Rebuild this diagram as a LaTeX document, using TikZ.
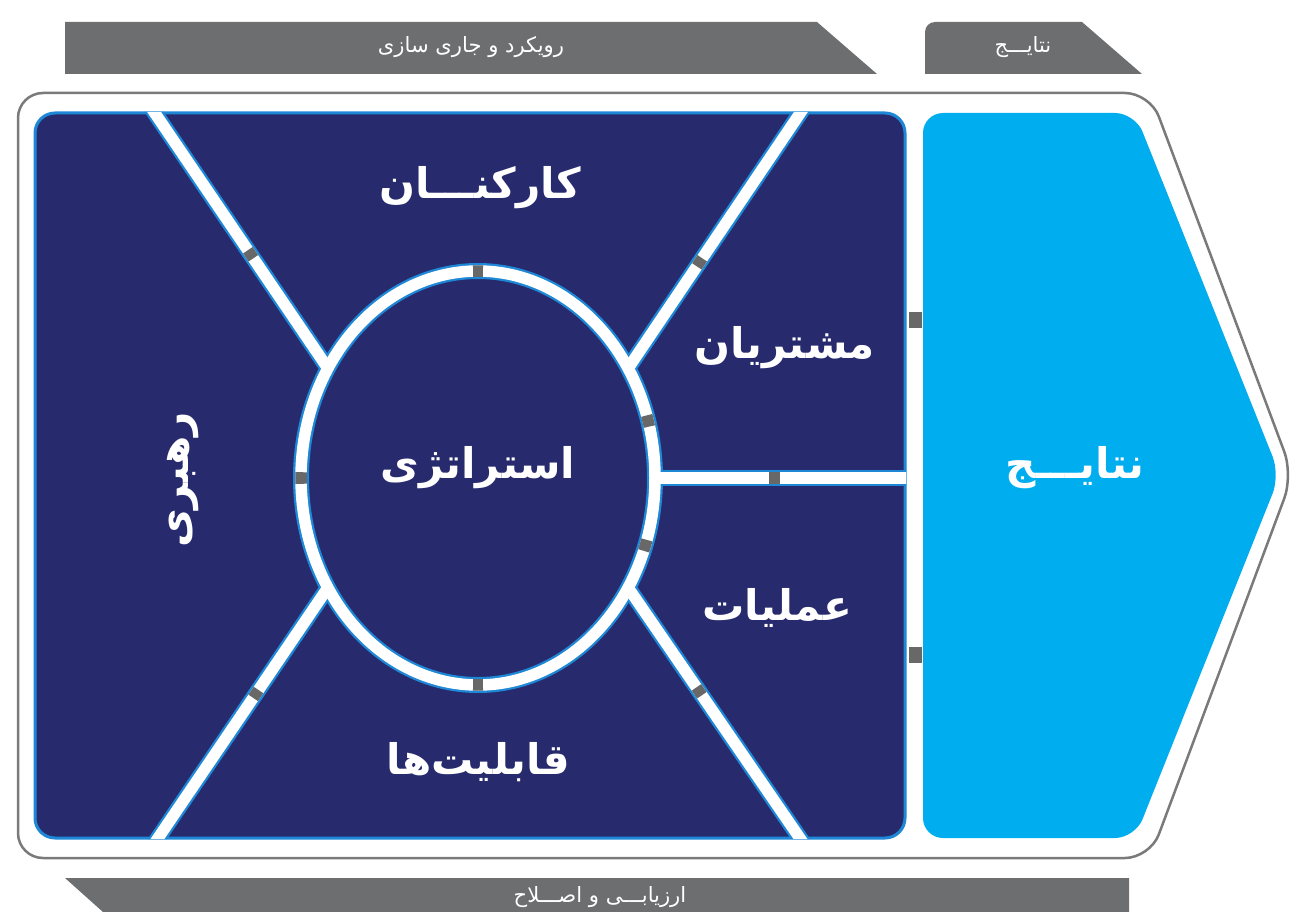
\documentclass[tikz,border=0pt]{standalone}
\usepackage{fontspec}
\usepackage{xcolor}
\usepackage{tikz}
\usetikzlibrary{calc}
\newfontfamily\fa[Script=Arabic]{DejaVu Sans}
\TeXXeTstate=1

\definecolor{navy}{HTML}{272B6E}
\definecolor{sky}{HTML}{00AEEF}
\definecolor{glow}{HTML}{1E88D6}
\definecolor{bannergray}{HTML}{6D6E70}
\definecolor{tickgray}{HTML}{686868}
\definecolor{framegray}{HTML}{7A7A7A}

\tikzset{
  lbl/.style={text=white, font=\fa\bfseries\fontsize{24}{28}\selectfont},
  head/.style={text=white, font=\fa\fontsize{12}{14}\selectfont},
  banner/.style={fill=bannergray},
  glowline/.style={draw=glow, line width=3.2mm},
  whiteline/.style={draw=white, line width=2.3mm},
  tickmark/.style={draw=tickgray, line width=2.3mm},
}

\begin{document}
\begin{tikzpicture}[x=0.2mm, y=-0.2mm]
        \useasboundingbox (0,0) rectangle (1296,912);

        % Banners
        \fill[banner] (65,22) -- (817,22) -- (877,74) -- (65,74) -- cycle;
        \fill[banner] (925,74) -- (925,32) arc[start angle=180, end angle=270, radius=10]
            -- (1082,22) -- (1142,74) -- cycle;
        \fill[banner] (65,878) -- (1129,878) -- (1129,912) -- (103,912) -- cycle;
        \node[head] (approach) at (471,47) {\beginR رویکرد و جاری سازی\endR};
        \node[head] (resulthead) at (1023,47) {\beginR نتایـــج\endR};
        \node[head] (review) at (600,897) {\beginR ارزیابـــی و اصـــلاح\endR};

        % Frame
        \draw[framegray, line width=0.5mm, fill=white, rounded corners=5mm]
            (18,475) -- (18,93) -- (1150,93) -- (1293,475) -- (1150,858) -- (18,858) -- cycle;

        % Panels
        \draw[glow, line width=0.6mm, fill=navy, rounded corners=4mm] (35,113) rectangle (905,838);
        \fill[sky, rounded corners=4mm]
            (923,475) -- (923,113) -- (1135,113) -- (1280,475) -- (1135,838) -- (923,838) -- cycle;

        % Spokes
        \coordinate (c) at (478,478);
        \path (c) ++(212:177 and 207) coordinate (ul);
        \path (c) ++(-32:177 and 207) coordinate (ur);
        \path (c) ++(148:177 and 207) coordinate (ll);
        \path (c) ++(32:177 and 207) coordinate (lr);
        \path (c) ++(0:177 and 207) coordinate (rr);
        \coordinate (ulo) at (146,100);
        \coordinate (uro) at (809,100);
        \coordinate (llo) at (150,850);
        \coordinate (lro) at (808,850);
        \coordinate (rro) at (915,478);

        \begin{scope}
            \clip[rounded corners=4mm] (34,112) rectangle (906,839);
            \foreach \s in {glowline, whiteline} {
                \draw[\s] (ulo) -- (ul);
                \draw[\s] (uro) -- (ur);
                \draw[\s] (llo) -- (ll);
                \draw[\s] (lro) -- (lr);
                \draw[\s] (rro) -- (rr);
                \draw[\s] (c) ellipse [x radius=177, y radius=207];
            }
            \draw[tickmark] ($(ulo)!0.56!(ul)$) -- ($(ulo)!0.59!(ul)$);
            \draw[tickmark] ($(uro)!0.59!(ur)$) -- ($(uro)!0.62!(ur)$);
            \draw[tickmark] ($(llo)!0.58!(ll)$) -- ($(llo)!0.61!(ll)$);
            \draw[tickmark] ($(lro)!0.59!(lr)$) -- ($(lro)!0.62!(lr)$);
            \draw[tickmark] ($(rro)!0.52!(rr)$) -- ($(rro)!0.56!(rr)$);
            \foreach \a in {-90, 180, 90, -16, 19}
                \draw[tickmark] (c) ++({\a-1.6}:177 and 207)
                    arc[start angle=\a-1.6, end angle=\a+1.6, x radius=177, y radius=207];
        \end{scope}
        \fill[tickgray] (909,312) rectangle (922,328);
        \fill[tickgray] (909,647) rectangle (922,663);

        % Labels
        \node[lbl] (staff) at (480,188) {\beginR کارکنـــان\endR};
        \node[lbl] (customers) at (785,348) {\beginR مشتریان\endR};
        \node[lbl] (strategy) at (478,468) {\beginR استراتژی\endR};
        \node[lbl] (operations) at (777,608) {\beginR عملیات\endR};
        \node[lbl] (abilities) at (478,762) {\beginR قابلیت‌ها\endR};
        \node[lbl, rotate=90] (leadership) at (183,480) {\beginR رهبری\endR};
        \node[lbl] (results) at (1075,468) {\beginR نتایـــج\endR};
    \end{tikzpicture}
\end{document}
